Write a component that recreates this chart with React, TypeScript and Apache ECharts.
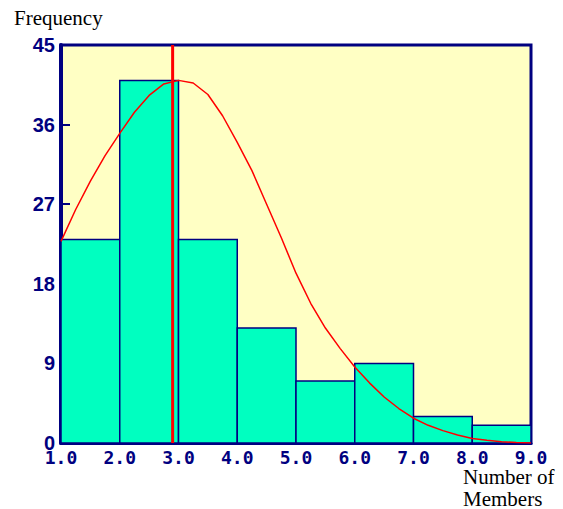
import React, { useEffect, useRef } from "react";
import * as echarts from "echarts";

const binStarts = [1, 2, 3, 4, 5, 6, 7, 8];
const binEnds = [2, 3, 4, 5, 6, 7, 8, 9];
const frequencies = [23, 41, 23, 13, 7, 9, 3, 2];

const curveX = [1.0, 1.25, 1.5, 1.75, 2.0, 2.25, 2.5, 2.75, 3.0, 3.25, 3.5, 3.75, 4.0, 4.25, 4.5, 4.75, 5.0, 5.25, 5.5, 5.75, 6.0, 6.25, 6.5, 6.75, 7.0, 7.25, 7.5, 7.75, 8.0, 8.25, 8.5, 8.75, 9.0];
const curveY = [22.8, 26.4, 29.6, 32.5, 35.0, 37.4, 39.3, 40.6, 41.0, 40.7, 39.4, 37.0, 34.0, 30.8, 27.0, 23.2, 19.2, 15.8, 13.0, 10.7, 8.6, 6.8, 5.2, 3.9, 2.8, 2.0, 1.4, 0.9, 0.5, 0.3, 0.15, 0.05, 0.0];

const markerX = 2.9;

const xTickLabels = ["1.0", "2.0", "3.0", "4.0", "5.0", "6.0", "7.0", "8.0", "9.0"];
const yTickLabels = ["0", "9", "18", "27", "36", "45"];

const NAVY = "#000080";

export default function App() {
  const ref = useRef<HTMLDivElement>(null);
  useEffect(() => {
    if (!ref.current) return;
    const chart = echarts.init(ref.current, null, { renderer: "svg" });
    const barData = binStarts.map((s, i) => [s, binEnds[i], frequencies[i]]);
    chart.setOption({
      animation: false,
      backgroundColor: "#ffffff",
      grid: {
        left: 61,
        right: 32,
        top: 45,
        bottom: 66,
        show: true,
        backgroundColor: "#FFFFC4",
        borderColor: NAVY,
        borderWidth: 3,
      },
      xAxis: {
        type: "value",
        min: 1,
        max: 9,
        interval: 1,
        splitLine: { show: false },
        axisLine: { show: true, lineStyle: { color: NAVY, width: 3 } },
        axisTick: { show: true, inside: true, length: 6, lineStyle: { color: NAVY, width: 2 } },
        axisLabel: {
          color: NAVY,
          fontFamily: "DejaVu Sans Mono",
          fontWeight: "bold",
          fontSize: 18,
          margin: 5,
          formatter: (v: number) => xTickLabels[Math.round(v - 1)] ?? "",
        },
      },
      yAxis: {
        type: "value",
        min: 0,
        max: 45,
        interval: 9,
        splitLine: { show: false },
        axisLine: { show: true, lineStyle: { color: NAVY, width: 4 } },
        axisTick: { show: true, inside: true, length: 9, lineStyle: { color: NAVY, width: 2 } },
        axisLabel: {
          color: NAVY,
          fontFamily: "Liberation Sans",
          fontWeight: "bold",
          fontSize: 20,
          margin: 6,
          formatter: (v: number) => yTickLabels[Math.round(v / 9)] ?? "",
        },
      },
      graphic: [
        {
          type: "text",
          left: 14,
          top: 7,
          style: { text: "Frequency", font: "21px 'Liberation Serif'", fill: "#000" },
        },
        {
          type: "text",
          left: 463,
          top: 466,
          style: { text: "Number of", font: "21px 'Liberation Serif'", fill: "#000" },
        },
        {
          type: "text",
          left: 463,
          top: 488,
          style: { text: "Members", font: "21px 'Liberation Serif'", fill: "#000" },
        },
      ],
      series: [
        {
          type: "custom",
          data: barData,
          encode: { x: [0, 1], y: 2 },
          renderItem: (params: any, api: any) => {
            const x0 = api.value(0);
            const x1 = api.value(1);
            const h = api.value(2);
            const p0 = api.coord([x0, h]);
            const p1 = api.coord([x1, 0]);
            return {
              type: "rect",
              shape: { x: p0[0], y: p0[1], width: p1[0] - p0[0], height: p1[1] - p0[1] },
              style: { fill: "#00FFC0", stroke: NAVY, lineWidth: 1.5 },
            };
          },
          z: 2,
        },
        {
          type: "line",
          data: curveX.map((x, i) => [x, curveY[i]]),
          showSymbol: false,
          symbol: "none",
          lineStyle: { color: "#FF0000", width: 1.5 },
          z: 3,
        },
        {
          type: "line",
          data: [
            [markerX, 0],
            [markerX, 45],
          ],
          showSymbol: false,
          symbol: "none",
          lineStyle: { color: "#FF0000", width: 3 },
          z: 4,
        },
      ],
    });
    return () => chart.dispose();
  }, []);
  return <div ref={ref} style={{ width: 563, height: 509, position: "absolute", left: 0, top: 0 }} />;
}
